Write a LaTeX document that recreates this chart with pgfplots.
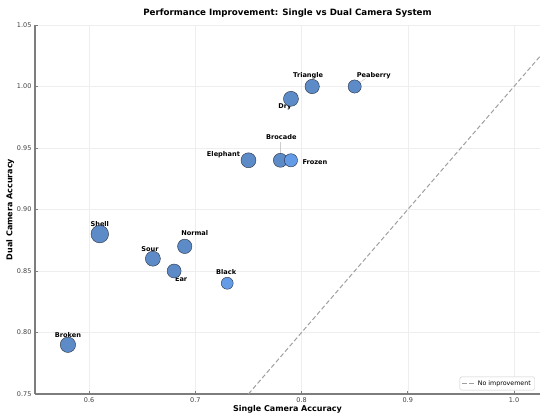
\documentclass[border=0pt]{standalone}
\usepackage{pgfplots}
\pgfplotsset{compat=1.18}
\usepackage{fontspec}
\setmainfont{DejaVu Sans}
\definecolor{ptA}{RGB}{92,139,199}
\definecolor{ptB}{RGB}{100,155,230}
\definecolor{edgec}{RGB}{40,48,65}
\definecolor{gridc}{RGB}{238,238,238}
\definecolor{spinec}{RGB}{125,125,125}
\begin{document}
\begin{tikzpicture}[x=1pt,y=1pt]
\begin{axis}[
  at={(0,0)}, anchor=south west,
  scale only axis, width=505pt, height=369pt,
  xmin=0.549, xmax=1.0245, ymin=0.75, ymax=1.05,
  axis x line*=bottom, axis y line*=left,
  axis line style={spinec, line width=1.1pt, -},
  xtick={0.6,0.7,0.8,0.9,1.0},
  xticklabels={0.6,0.7,0.8,0.9,1.0},
  ytick={0.75,0.80,0.85,0.90,0.95,1.00,1.05},
  yticklabels={0.75,0.80,0.85,0.90,0.95,1.00,1.05},
  tick style={spinec, line width=0.6pt},
  major tick length=3pt,
  ticklabel style={font=\fontsize{6.5}{7}\selectfont, text=black!75},
  grid=major, major grid style={gridc, line width=0.5pt},
  xlabel={\textbf{Single Camera Accuracy}},
  ylabel={\textbf{Dual Camera Accuracy}},
  label style={font=\fontsize{8}{9}\selectfont},
  xlabel style={yshift=4pt},
  ylabel style={yshift=-4pt},
  title={\textbf{Performance Improvement: Single vs Dual Camera System}},
  title style={font=\fontsize{8.7}{10}\selectfont, yshift=-2pt},
  legend style={at={(0.99,0.01)}, anchor=south east, font=\fontsize{6.3}{7}\selectfont, draw=black!20, rounded corners=1.5pt, inner xsep=2pt, inner ysep=1.5pt},
  legend image code/.code={\draw[#1] (0pt,0pt) -- (13pt,0pt);},
  legend cell align=left,
  clip=false,
]
\addplot[gray!75, line width=1pt, dash pattern=on 4.5pt off 2.5pt] coordinates {(0.75,0.75) (1.0245,1.0245)};
\addlegendentry{No improvement}

\addplot[only marks, mark=*,
  visualization depends on={\thisrow{r} \as \rad},
  scatter, scatter/use mapped color={fill=ptA, draw=edgec},
  scatter/@pre marker code/.append style={/tikz/mark size=\rad, /tikz/line width=0.6pt},
  forget plot] table[x=x,y=y] {
x     y     r
0.58  0.79  7.7
0.61  0.88  8.8
0.66  0.86  7.5
0.68  0.85  7.0
0.69  0.87  7.2
0.75  0.94  7.5
0.78  0.94  7.0
0.79  0.99  7.5
0.81  1.00  7.2
0.85  1.00  6.6
};
\addplot[only marks, mark=*,
  visualization depends on={\thisrow{r} \as \rad},
  scatter, scatter/use mapped color={fill=ptB, draw=edgec},
  scatter/@pre marker code/.append style={/tikz/mark size=\rad, /tikz/line width=0.6pt, /tikz/fill opacity=0.85},
  forget plot] table[x=x,y=y] {
x     y     r
0.73  0.84  6.0
0.79  0.94  6.6
};

\tikzset{lab/.style={font=\fontsize{6.6}{7}\selectfont\bfseries, inner sep=0pt}}
\node[lab] at (axis cs:0.58,0.79) [yshift=10pt] {Broken};
\node[lab] at (axis cs:0.61,0.88) [yshift=10.5pt] {Shell};
\node[lab] at (axis cs:0.66,0.86) [yshift=10pt, xshift=-3pt] {Sour};
\node[lab] at (axis cs:0.69,0.87) [yshift=13pt, xshift=10pt] {Normal};
\node[lab] at (axis cs:0.68,0.85) [yshift=-8pt, xshift=7pt] {Ear};
\node[lab] at (axis cs:0.73,0.84) [yshift=11pt, xshift=-1pt] {Black};
\node[lab] at (axis cs:0.75,0.94) [yshift=6pt, xshift=-25pt] {Elephant};
\draw[gray!40, line width=0.5pt] (axis cs:0.78,0.94) -- ++(0pt,18pt);
\node[lab] at (axis cs:0.78,0.94) [yshift=23pt, xshift=1pt] {Brocade};
\node[lab] at (axis cs:0.79,0.94) [yshift=-2pt, xshift=24pt] {Frozen};
\node[lab] at (axis cs:0.79,0.99) [yshift=-8pt, xshift=-6pt] {Dry};
\node[lab] at (axis cs:0.81,1.00) [yshift=11pt, xshift=-4pt] {Triangle};
\draw[gray!40, line width=0.5pt] (axis cs:0.85,1.00) ++(5pt,4pt) -- ++(6pt,4pt);
\node[lab] at (axis cs:0.85,1.00) [yshift=11pt, xshift=19pt] {Peaberry};
\end{axis}
\pgfresetboundingbox
\path[use as bounding box] (-35pt,-25pt) rectangle (515pt,394pt);
\end{tikzpicture}
\end{document}
